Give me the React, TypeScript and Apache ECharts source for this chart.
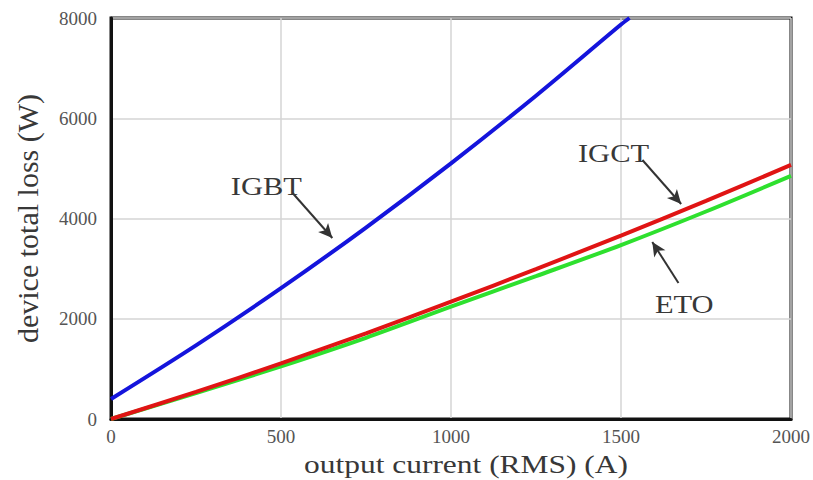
import React, { useEffect, useRef } from "react";
import * as echarts from "echarts";

// Output current (RMS) in A
const currentIGBT = [0, 250, 500, 750, 1000, 1250, 1500, 1525];
const lossIGBT = [400, 1470, 2610, 3820, 5100, 6450, 7870, 8000];

const currentIGCT = [0, 250, 500, 750, 1000, 1250, 1500, 1750, 2000];
const lossIGCT = [0, 540, 1110, 1710, 2340, 2990, 3660, 4350, 5070];

const currentETO = [0, 250, 500, 750, 1000, 1250, 1500, 1750, 2000];
const lossETO = [0, 515, 1050, 1620, 2240, 2850, 3470, 4140, 4850];

// Callout labels: text centre and arrow (from -> tip), in data units
const calloutNames = ["IGBT", "IGCT", "ETO"];
const calloutText = [
  [457, 4640],
  [1478, 5300],
  [1686, 2294],
];
const arrowFrom = [
  [534, 4509],
  [1563, 5167],
  [1669, 2713],
];
const arrowTip = [
  [651, 3611],
  [1677, 4289],
  [1592, 3531],
];

const SERIF = "'Liberation Serif', 'Times New Roman', serif";
const TEXT_COLOR = "#383838";

const zip = (xs: number[], ys: number[]) => xs.map((x, i) => [x, ys[i]]);

export default function App() {
  const ref = useRef<HTMLDivElement>(null);

  useEffect(() => {
    if (!ref.current) return;
    const chart = echarts.init(ref.current, null, { renderer: "svg" });

    const lineStyleFor = (color: string) => ({ color, width: 4 });

    const gridLeft = 111;
    const gridRight = 20;
    const gridTop = 18;
    const gridBottom = 61;

    chart.setOption({
      animation: false,
      backgroundColor: "#ffffff",
      grid: {
        left: gridLeft,
        right: gridRight,
        top: gridTop,
        bottom: gridBottom,
        show: true,
        borderColor: "#111111",
        borderWidth: 3,
        backgroundColor: "transparent",
      },
      xAxis: {
        type: "value",
        min: 0,
        max: 2000,
        interval: 500,
        axisLine: { show: true, lineStyle: { color: "#111111", width: 3 } },
        axisTick: { show: false },
        axisLabel: {
          fontFamily: SERIF,
          fontSize: 19,
          color: "#555555",
          margin: 8,
          formatter: (v: number) => String(v),
        },
        splitLine: { show: true, lineStyle: { color: "#d4d4d4", width: 1.5 } },
      },
      yAxis: {
        type: "value",
        min: 0,
        max: 8000,
        interval: 2000,
        name: "device total loss (W)",
        nameLocation: "middle",
        nameGap: 69,
        nameTextStyle: { fontFamily: SERIF, fontSize: 30, color: TEXT_COLOR },
        axisLine: { show: true, lineStyle: { color: "#111111", width: 3 } },
        axisTick: { show: false },
        axisLabel: {
          fontFamily: SERIF,
          fontSize: 19,
          color: "#555555",
          margin: 14,
          formatter: (v: number) => String(v),
        },
        splitLine: { show: true, lineStyle: { color: "#d4d4d4", width: 1.5 } },
      },
      series: [
        {
          name: "ETO",
          type: "line",
          data: zip(currentETO, lossETO),
          smooth: 0.3,
          showSymbol: false,
          lineStyle: lineStyleFor("#2ee02e"),
          z: 2,
        },
        {
          name: "IGCT",
          type: "line",
          data: zip(currentIGCT, lossIGCT),
          smooth: 0.3,
          showSymbol: false,
          lineStyle: lineStyleFor("#e01414"),
          z: 3,
        },
        {
          name: "IGBT",
          type: "line",
          data: zip(currentIGBT, lossIGBT),
          smooth: 0.3,
          showSymbol: false,
          lineStyle: lineStyleFor("#1414dc"),
          z: 4,
          markLine: {
            silent: true,
            animation: false,
            symbol: ["none", "arrow"],
            symbolSize: [10, 14],
            lineStyle: { color: "#333333", width: 2, type: "solid" },
            label: { show: false },
            data: arrowFrom.map((from, i) => [
              { coord: from },
              { coord: arrowTip[i] },
            ]),
          },
        },
      ],
    });

    // Wide serif texts: callout names and the x-axis title
    const width = chart.getWidth();
    const height = chart.getHeight();
    const plotCentreX = gridLeft + (width - gridLeft - gridRight) / 2;

    const callouts = calloutNames.map((name, i) => {
      const [px, py] = chart.convertToPixel({ gridIndex: 0 }, calloutText[i]) as number[];
      return {
        type: "text",
        x: px,
        y: py,
        scaleX: 1.22,
        silent: true,
        z: 10,
        style: {
          text: name,
          x: 0,
          y: 0,
          fill: TEXT_COLOR,
          font: `25px ${SERIF}`,
          textAlign: "center",
          textVerticalAlign: "middle",
        },
      };
    });

    chart.setOption({
      graphic: [
        ...callouts,
        {
          type: "text",
          x: plotCentreX + 14,
          y: height - 16,
          scaleX: 1.21,
          silent: true,
          style: {
            text: "output current (RMS) (A)",
            x: 0,
            y: 0,
            fill: TEXT_COLOR,
            font: `26px ${SERIF}`,
            textAlign: "center",
            textVerticalAlign: "middle",
          },
        },
      ],
    });

    return () => chart.dispose();
  }, []);

  return (
    <div
      ref={ref}
      style={{ position: "absolute", left: 0, top: 0, width: 813, height: 480 }}
    />
  );
}
